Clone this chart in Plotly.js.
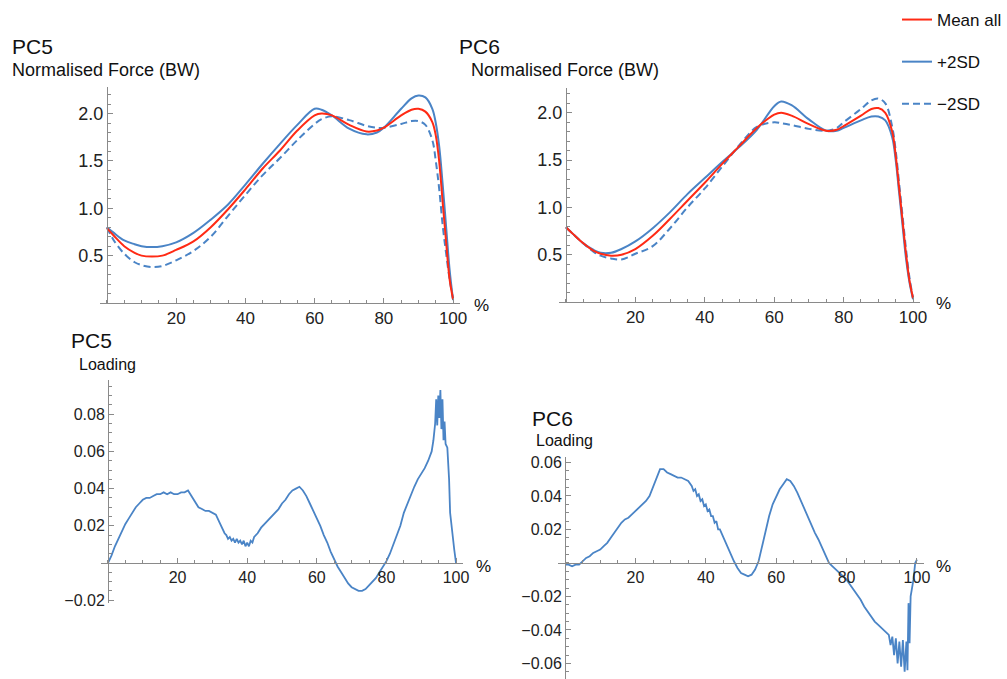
<!DOCTYPE html>
<html>
<head>
<meta charset="utf-8">
<script src="https://cdn.plot.ly/plotly-3.0.1.min.js"></script>
<style>html,body{margin:0;padding:0;background:#fff;}#chart{width:1007px;height:679px;}</style>
</head>
<body>
<div id="chart"></div>
<script>
// ---------- data ----------
const pctForce = [0, 2, 5, 8, 10, 13, 16, 20, 25, 30, 35, 40, 45, 50, 55, 60, 62, 65, 70, 75, 78, 80, 85, 88, 90, 92, 94, 95, 96, 97, 98, 99, 100];

const pc5Mean  = [0.79, 0.71, 0.60, 0.53, 0.50, 0.49, 0.50, 0.56, 0.65, 0.80, 0.99, 1.20, 1.42, 1.61, 1.82, 1.98, 2.00, 1.98, 1.88, 1.81, 1.82, 1.85, 1.98, 2.04, 2.05, 2.02, 1.91, 1.77, 1.49, 1.06, 0.64, 0.25, 0.04];
const pc5Plus  = [0.80, 0.74, 0.66, 0.62, 0.60, 0.59, 0.60, 0.64, 0.74, 0.88, 1.04, 1.25, 1.47, 1.68, 1.88, 2.05, 2.04, 1.98, 1.84, 1.78, 1.80, 1.85, 2.05, 2.16, 2.19, 2.17, 2.05, 1.90, 1.65, 1.25, 0.80, 0.35, 0.03];
const pc5Minus = [0.80, 0.66, 0.52, 0.43, 0.40, 0.38, 0.39, 0.45, 0.55, 0.70, 0.92, 1.14, 1.35, 1.53, 1.72, 1.89, 1.94, 1.97, 1.93, 1.87, 1.85, 1.85, 1.89, 1.92, 1.92, 1.88, 1.72, 1.50, 1.20, 0.82, 0.52, 0.25, 0.04];

const pc6Mean  = [0.79, 0.72, 0.62, 0.54, 0.51, 0.49, 0.50, 0.56, 0.70, 0.88, 1.07, 1.26, 1.46, 1.65, 1.84, 1.98, 2.00, 1.97, 1.88, 1.81, 1.82, 1.86, 1.97, 2.04, 2.05, 2.00, 1.80, 1.55, 1.20, 0.85, 0.50, 0.22, 0.04];
const pc6Plus  = [0.79, 0.72, 0.62, 0.55, 0.52, 0.52, 0.56, 0.64, 0.78, 0.95, 1.14, 1.31, 1.48, 1.64, 1.82, 2.07, 2.12, 2.08, 1.93, 1.81, 1.81, 1.84, 1.92, 1.96, 1.96, 1.92, 1.74, 1.50, 1.15, 0.80, 0.45, 0.20, 0.03];
const pc6Minus = [0.79, 0.72, 0.62, 0.53, 0.49, 0.46, 0.45, 0.51, 0.59, 0.78, 1.00, 1.20, 1.43, 1.66, 1.85, 1.90, 1.89, 1.87, 1.83, 1.81, 1.84, 1.90, 2.04, 2.13, 2.15, 2.10, 1.85, 1.60, 1.25, 0.90, 0.55, 0.25, 0.04];

const pctLoad5 = [0,1,2,3,4,5,6,7,8,9,10,11,12,13,14,15,16,17,18,19,20,21,22,23,24,25,26,27,28,29,30,31,32,
  33,33.5,34,34.5,35,35.5,36,36.5,37,37.5,38,38.5,39,39.5,40,40.5,41,41.5,42,42.5,43,
  44,45,46,47,48,49,50,51,52,53,54,55,56,57,58,59,60,61,62,63,64,65,66,67,68,69,70,71,72,73,74,75,76,77,78,79,80,81,82,83,84,85,86,87,88,89,90,91,92,93,
  93.5,94,94.3,94.6,94.9,95.2,95.5,95.8,96.1,96.4,96.7,97,97.5,98,98.3,99,99.5,100];
const pc5Loading = [0.000,0.004,0.009,0.013,0.017,0.021,0.024,0.027,0.030,0.032,0.034,0.035,0.035,0.036,0.037,0.037,0.038,0.037,0.038,0.037,0.037,0.038,0.038,0.039,0.036,0.033,0.030,0.029,0.028,0.028,0.027,0.026,0.022,
  0.018,0.016,0.015,0.013,0.014,0.012,0.013,0.011,0.013,0.011,0.012,0.010,0.012,0.009,0.011,0.009,0.012,0.011,0.014,0.015,0.016,
  0.019,0.021,0.023,0.025,0.027,0.029,0.032,0.034,0.037,0.039,0.040,0.041,0.039,0.036,0.032,0.028,0.024,0.020,0.015,0.011,0.006,0.002,-0.002,-0.005,-0.008,-0.011,-0.013,-0.014,-0.015,-0.015,-0.014,-0.012,-0.010,-0.008,-0.005,-0.002,0.001,0.005,0.010,0.015,0.020,0.027,0.032,0.037,0.041,0.045,0.048,0.051,0.055,0.060,
  0.066,0.075,0.088,0.074,0.090,0.078,0.093,0.072,0.088,0.066,0.076,0.064,0.062,0.045,0.027,0.013,0.007,0.000];

const pctLoad6 = [0,1,2,3,4,5,6,7,8,9,10,11,12,13,14,15,16,17,18,19,20,21,22,23,24,25,26,27,28,29,30,31,32,33,34,35,
  36,36.5,37,37.5,38,38.5,39,39.5,40,40.5,41,41.5,42,42.5,43,43.5,44,
  45,46,47,48,49,50,51,52,53,54,55,56,57,58,59,60,61,62,63,64,65,66,67,68,69,70,71,72,73,74,75,76,77,78,79,80,81,82,83,84,85,86,87,88,89,90,91,92,
  92.5,93,93.5,94,94.5,95,95.5,96,96.5,97,97.3,97.6,97.9,98.2,98.6,99,99.5,100];
const pc6Loading = [-0.001,-0.001,-0.002,-0.001,-0.001,0.001,0.003,0.004,0.006,0.007,0.008,0.010,0.012,0.015,0.018,0.021,0.024,0.026,0.027,0.029,0.031,0.033,0.035,0.037,0.040,0.045,0.050,0.056,0.056,0.054,0.053,0.052,0.051,0.051,0.050,0.049,
  0.046,0.043,0.044,0.040,0.041,0.037,0.038,0.034,0.035,0.031,0.032,0.028,0.028,0.024,0.025,0.020,0.020,
  0.015,0.010,0.005,0.001,-0.003,-0.006,-0.007,-0.008,-0.007,-0.004,0.001,0.010,0.019,0.028,0.035,0.040,0.044,0.047,0.050,0.049,0.046,0.042,0.037,0.032,0.027,0.022,0.018,0.014,0.009,0.004,0.000,-0.002,-0.004,-0.006,-0.008,-0.010,-0.013,-0.016,-0.019,-0.022,-0.026,-0.029,-0.032,-0.035,-0.037,-0.039,-0.041,-0.043,
  -0.049,-0.044,-0.055,-0.045,-0.060,-0.047,-0.062,-0.046,-0.065,-0.047,-0.064,-0.024,-0.048,-0.020,-0.015,-0.010,0.000,0.002];

const xTickVals = [20, 40, 60, 80, 100];
const xTickText = ['20', '40', '60', '80', '100'];
const forceTickVals = [0.5, 1.0, 1.5, 2.0];
const forceTickText = ['0.5', '1.0', '1.5', '2.0'];
const load5TickVals = [-0.02, 0.02, 0.04, 0.06, 0.08];
const load5TickText = ['\u22120.02', '0.02', '0.04', '0.06', '0.08'];
const load6TickVals = [-0.06, -0.04, -0.02, 0.02, 0.04, 0.06];
const load6TickText = ['\u22120.06', '\u22120.04', '\u22120.02', '0.02', '0.04', '0.06'];

// ---------- style ----------
const RED = '#ff2a14';
const BLUE = '#4a84c6';
const AXIS = '#8a8a8a';
const FONT = 'Liberation Sans, Arial, sans-serif';
const W = 1007, H = 679;
const px = v => v / W;
const py = v => 1 - v / H;

const traces = [
  {x: pctForce, y: pc5Minus, xaxis: 'x', yaxis: 'y', mode: 'lines', line: {color: BLUE, width: 2, dash: '7px,4px', shape: 'spline'}, showlegend: false, hoverinfo: 'skip'},
  {x: pctForce, y: pc5Plus,  xaxis: 'x', yaxis: 'y', mode: 'lines', line: {color: BLUE, width: 2, shape: 'spline'}, showlegend: false, hoverinfo: 'skip'},
  {x: pctForce, y: pc5Mean,  xaxis: 'x', yaxis: 'y', mode: 'lines', line: {color: RED, width: 2, shape: 'spline'}, showlegend: false, hoverinfo: 'skip'},
  {x: pctForce, y: pc6Minus, xaxis: 'x2', yaxis: 'y2', mode: 'lines', name: '\u22122SD', legendgroup: 'c', legendrank: 3, line: {color: BLUE, width: 2, dash: '7px,4px', shape: 'spline'}},
  {x: pctForce, y: pc6Plus,  xaxis: 'x2', yaxis: 'y2', mode: 'lines', name: '+2SD', legendgroup: 'b', legendrank: 2, line: {color: BLUE, width: 2, shape: 'spline'}},
  {x: pctForce, y: pc6Mean,  xaxis: 'x2', yaxis: 'y2', mode: 'lines', name: 'Mean all', legendgroup: 'a', legendrank: 1, line: {color: RED, width: 2, shape: 'spline'}},
  {x: pctLoad5, y: pc5Loading, xaxis: 'x3', yaxis: 'y3', mode: 'lines', line: {color: BLUE, width: 1.8}, showlegend: false, hoverinfo: 'skip'},
  {x: pctLoad6, y: pc6Loading, xaxis: 'x4', yaxis: 'y4', mode: 'lines', line: {color: BLUE, width: 1.8}, showlegend: false, hoverinfo: 'skip'}
];

function xAx(domain, fsize, extra) {
  return Object.assign({
    domain: domain, range: [-2, 102], tickmode: 'array', tickvals: xTickVals, ticktext: xTickText,
    ticks: 'inside', ticklen: 5, tickcolor: AXIS, tickwidth: 1,
    minor: {tickmode: 'linear', tick0: 0, dtick: 5, ticks: 'inside', ticklen: 3, tickcolor: AXIS},
    showline: true, linecolor: AXIS, linewidth: 1, showgrid: false, zeroline: false,
    tickfont: {family: FONT, size: fsize, color: '#222'}, fixedrange: true
  }, extra);
}
function yAx(domain, range, vals, text, minorStep, fsize, extra) {
  return Object.assign({
    domain: domain, range: range, tickmode: 'array', tickvals: vals, ticktext: text,
    ticks: 'inside', ticklen: 5, tickcolor: AXIS, tickwidth: 1,
    minor: {tickmode: 'linear', tick0: 0, dtick: minorStep, ticks: 'inside', ticklen: 3, tickcolor: AXIS},
    showline: true, linecolor: AXIS, linewidth: 1, showgrid: false, zeroline: false,
    tickfont: {family: FONT, size: fsize, color: '#222'}, fixedrange: true
  }, extra);
}

function txt(text, x, y, size) {
  return {text: text, x: px(x), y: py(y), xref: 'paper', yref: 'paper', xanchor: 'left', yanchor: 'middle',
          showarrow: false, font: {family: FONT, size: size, color: '#111'}};
}

const layout = {
  width: W, height: H, margin: {l: 0, r: 0, t: 0, b: 0},
  paper_bgcolor: '#fff', plot_bgcolor: 'rgba(0,0,0,0)',
  showlegend: true,
  legend: {x: px(897), y: py(2), xanchor: 'left', yanchor: 'top', traceorder: 'grouped', tracegroupgap: 17,
           font: {family: FONT, size: 17, color: '#111'}, bgcolor: 'rgba(0,0,0,0)', itemwidth: 30},
  xaxis:  xAx([px(100), px(460)], 17, {anchor: 'y'}),
  yaxis:  yAx([1 - 303 / H, 1 - 87 / H], [0, 2.28], forceTickVals, forceTickText, 0.1, 18, {anchor: 'free', position: px(107)}),
  xaxis2: xAx([px(559), px(920)], 17, {anchor: 'y2'}),
  yaxis2: yAx([1 - 302 / H, 1 - 88 / H], [0, 2.262], forceTickVals, forceTickText, 0.1, 18, {anchor: 'free', position: px(566)}),
  xaxis3: xAx([px(101), px(463)], 16, {anchor: 'free', position: 1 - 563 / H}),
  yaxis3: yAx([1 - 603 / H, 1 - 380 / H], [-0.0215, 0.0984], load5TickVals, load5TickText, 0.005, 16, {anchor: 'free', position: px(108)}),
  xaxis4: xAx([px(558), px(924)], 16, {anchor: 'free', position: 1 - 563 / H}),
  yaxis4: yAx([0, 1 - 456.6 / H], [-0.0693, 0.0635], load6TickVals, load6TickText, 0.005, 16, {anchor: 'free', position: px(565)}),
  annotations: [
    txt('PC5', 10, 47, 21),
    txt('Normalised Force (BW)', 10, 70, 18),
    txt('PC6', 457, 47, 21),
    txt('Normalised Force (BW)', 469, 70, 18),
    txt('PC5', 69, 340, 21),
    txt('Loading', 77, 364, 16),
    txt('PC6', 530, 418, 21),
    txt('Loading', 534, 440, 16),
    txt('%', 472, 306, 17),
    txt('%', 934, 303, 17),
    txt('%', 474, 566, 17),
    txt('%', 934, 566, 17)
  ]
};

Plotly.newPlot('chart', traces, layout, {staticPlot: true, displayModeBar: false});
</script>
</body>
</html>
